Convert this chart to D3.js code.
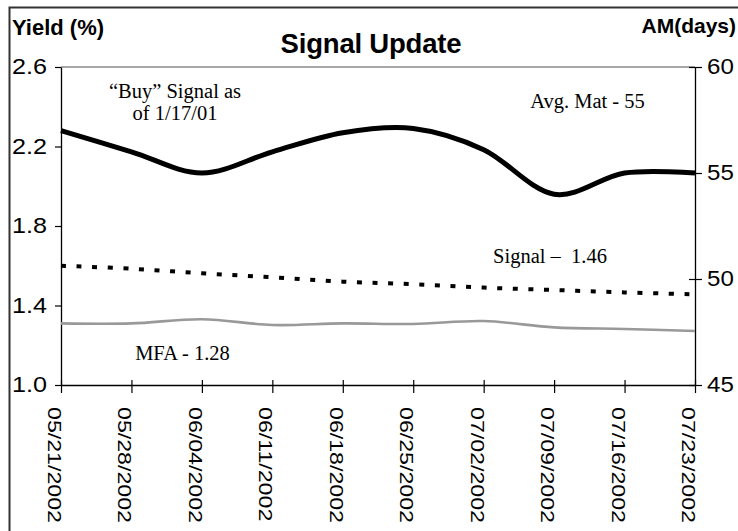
<!DOCTYPE html>
<html><head><meta charset="utf-8">
<script src="https://cdn.jsdelivr.net/npm/d3@7"></script>
<style>body{margin:0;background:#fff;overflow:hidden}</style>
</head><body>
<svg id="c" width="738" height="531"></svg>
<script>
const dates = ["05/21/2002","05/28/2002","06/04/2002","06/11/2002","06/18/2002","06/25/2002","07/02/2002","07/09/2002","07/16/2002","07/23/2002"];
const avgMat = [57.0, 56.0, 55.0, 56.0, 56.9, 57.1, 56.1, 54.0, 55.0, 55.0];
const signal = [1.600, 1.585, 1.562, 1.542, 1.520, 1.507, 1.490, 1.478, 1.466, 1.456];
const mfa    = [1.310, 1.310, 1.331, 1.302, 1.310, 1.307, 1.322, 1.290, 1.282, 1.272];
const yieldTicks = [1.0, 1.4, 1.8, 2.2, 2.6];
const amTicks = [45, 50, 55, 60];

const svg = d3.select("#c");
const L = 61, R = 695, T = 67, B = 385;
const x = d3.scalePoint().domain(dates).range([L, R]);
const yL = d3.scaleLinear().domain([1.0, 2.6]).range([B, T]);
const yR = d3.scaleLinear().domain([45, 60]).range([B, T]);
const SANS = "'Liberation Sans', Arial, sans-serif";
const SERIF = "'Liberation Serif', 'Times New Roman', serif";

function stretch(sel, f) {
  sel.each(function(){
    const w = this.getComputedTextLength();
    this.setAttribute("textLength", w * f);
    this.setAttribute("lengthAdjust", "spacingAndGlyphs");
  });
}

// outer frame
svg.append("path").attr("d", "M9.5,531V7.5H738").attr("fill","none").attr("stroke","#333").attr("stroke-width",2);

// plot area top border
svg.append("line").attr("x1", L).attr("x2", R).attr("y1", T).attr("y2", T).attr("stroke", "#8a8a8a").attr("stroke-width", 1.3);

// left axis
const gL = svg.append("g").attr("transform", `translate(${L},0)`)
  .call(d3.axisLeft(yL).tickValues(yieldTicks).tickFormat(d3.format(".1f")).tickSize(6).tickSizeOuter(0).tickPadding(8));
// right axis
const gR = svg.append("g").attr("transform", `translate(${R},0)`)
  .call(d3.axisRight(yR).tickValues(amTicks).tickSize(7).tickSizeOuter(0).tickPadding(5));
gR.selectAll(".tick line").attr("x1", -6);
// bottom axis
const gB = svg.append("g").attr("transform", `translate(0,${B})`)
  .call(d3.axisBottom(x).tickSize(8).tickSizeOuter(0).tickPadding(0));
gB.selectAll(".tick line").attr("y1", -5);

[gL, gR, gB].forEach(g => {
  g.select(".domain").attr("stroke", "#000").attr("stroke-width", 1.3);
  g.selectAll(".tick line").attr("stroke", "#000").attr("stroke-width", 1.2);
});
[gL, gR].forEach(g => {
  g.selectAll(".tick text").attr("font-family", SANS).attr("font-size", 21.5).attr("fill", "#000");
});
stretch(gL.selectAll(".tick text"), 1.17);
stretch(gR.selectAll(".tick text"), 1.12);

gB.selectAll(".tick text")
  .attr("font-family", SANS).attr("font-size", 19).attr("fill", "#000")
  .attr("text-anchor", "start").attr("dy", null)
  .attr("transform", "translate(-13.5,22) rotate(90)")
  .attr("x", 0).attr("y", 0);
stretch(gB.selectAll(".tick text"), 1.22);

// series
const curve = d3.curveCardinal.tension(0);
const lineAM = d3.line().x((d,i) => x(dates[i])).y(d => yR(d)).curve(curve);
const lineY = d3.line().x((d,i) => x(dates[i])).y(d => yL(d)).curve(curve);

svg.append("path").datum(mfa).attr("d", lineY).attr("fill","none").attr("stroke","#999").attr("stroke-width",2.6);
svg.append("path").datum(signal).attr("d", lineY).attr("fill","none").attr("stroke","#000").attr("stroke-width",4).attr("stroke-dasharray","5 10.6");
svg.append("path").datum(avgMat).attr("d", lineAM).attr("fill","none").attr("stroke","#000").attr("stroke-width",5).attr("stroke-linecap","butt");

// titles
svg.append("text").attr("x", 371).attr("y", 53).attr("text-anchor","middle")
  .attr("font-family", SANS).attr("font-weight","bold").attr("font-size", 27.5).attr("letter-spacing", -0.2).text("Signal Update");
svg.append("text").attr("x", 12).attr("y", 35)
  .attr("font-family", SANS).attr("font-weight","bold").attr("font-size", 22).text("Yield (%)");
svg.append("text").attr("x", 736).attr("y", 33).attr("text-anchor","end")
  .attr("font-family", SANS).attr("font-weight","bold").attr("font-size", 21).text("AM(days)");

// annotations
const notes = [
  {t: "\u201CBuy\u201D Signal as", x: 175, y: 98},
  {t: "of 1/17/01", x: 175, y: 119.5},
  {t: "Avg. Mat - 55", x: 587.5, y: 108},
  {t: "Signal \u2013 \u00A01.46", x: 550, y: 263},
  {t: "MFA - 1.28", x: 182.5, y: 360}
];
svg.selectAll("text.note").data(notes).enter().append("text").attr("class","note")
  .attr("x", d => d.x).attr("y", d => d.y).attr("text-anchor","middle")
  .attr("font-family", SERIF).attr("font-size", 20.5).attr("fill","#000").text(d => d.t);
</script>
</body></html>
